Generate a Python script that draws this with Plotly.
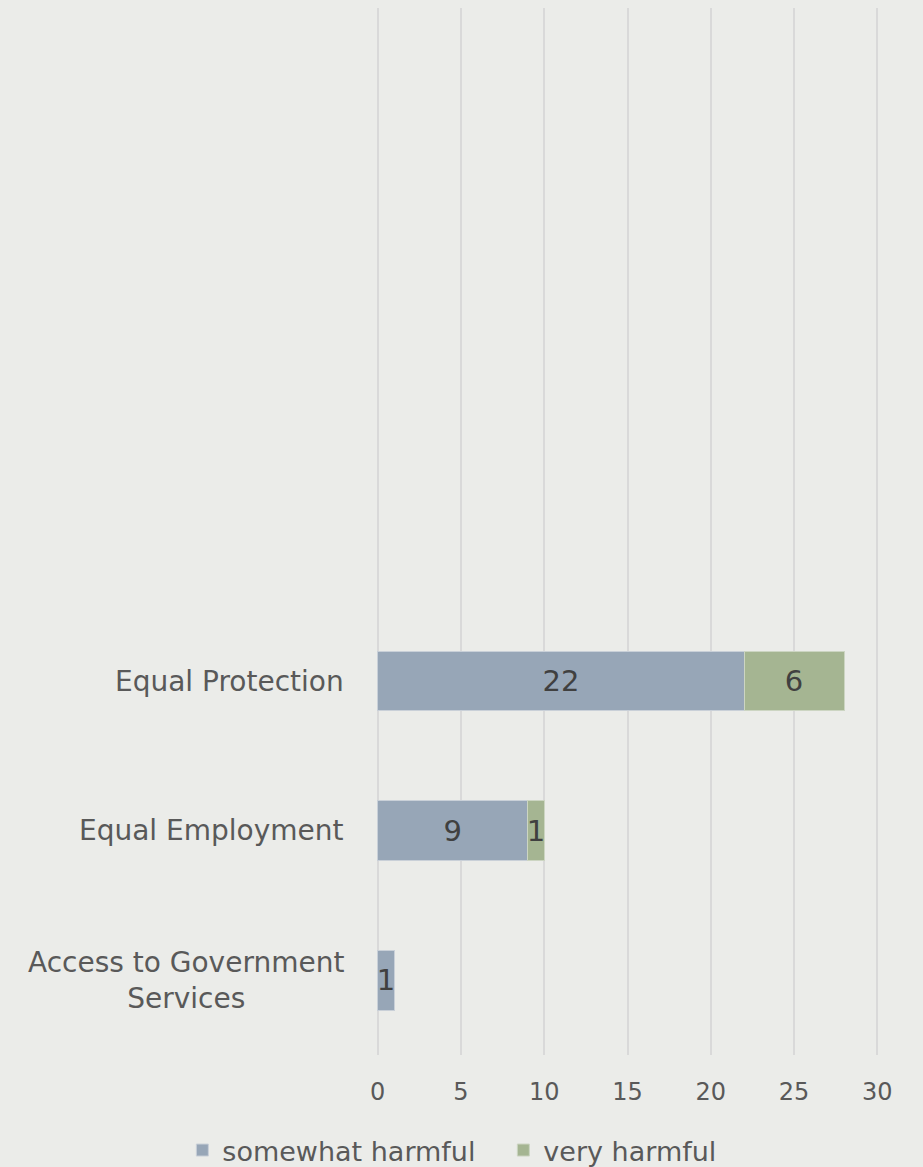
import plotly.graph_objects as go

categories = ["Access to Government Services", "Equal Employment", "Equal Protection"]
category_labels = ["Access to Government<br>Services", "Equal Employment", "Equal Protection"]
somewhat_harmful = [1, 9, 22]
very_harmful = [None, 1, 6]
x_ticks = [0, 5, 10, 15, 20, 25, 30]

FONT = "DejaVu Sans"
TEXT_GREY = "#595959"
LABEL_DARK = "#404040"
BG = "#ebece9"

fig = go.Figure()
fig.add_trace(go.Bar(
    name="somewhat harmful", y=categories, x=somewhat_harmful, orientation="h",
    marker=dict(color="#97a6b7", line=dict(color="#c9d0d8", width=1)),
    width=0.4, text=somewhat_harmful, textposition="inside", insidetextanchor="middle",
    textfont=dict(family=FONT, size=29, color=LABEL_DARK), hoverinfo="x+y",
))
fig.add_trace(go.Bar(
    name="very harmful", y=categories, x=very_harmful, orientation="h",
    marker=dict(color="#a5b592", line=dict(color="#ccd5c2", width=1)),
    width=0.4, text=very_harmful, textposition="inside", insidetextanchor="middle",
    textfont=dict(family=FONT, size=29, color=LABEL_DARK), hoverinfo="x+y",
))

for cat, lab in zip(categories, category_labels):
    fig.add_annotation(
        x=0, xref="x", y=cat, yref="y", text=lab, showarrow=False,
        xanchor="right", xshift=-32, align="center",
        font=dict(family=FONT, size=28, color=TEXT_GREY),
    )

fig.update_layout(
    barmode="stack",
    width=923, height=1167,
    margin=dict(l=376, r=44, t=8, b=112, autoexpand=False),
    paper_bgcolor=BG, plot_bgcolor=BG,
    font=dict(family=FONT, size=24, color=TEXT_GREY),
    uniformtext=dict(mode="show", minsize=29),
    showlegend=True,
    legend=dict(orientation="h", xref="paper", yref="paper",
                x=-0.385, xanchor="left", y=-0.0678, yanchor="top",
                entrywidth=276, entrywidthmode="pixels",
                font=dict(family=FONT, size=27, color=TEXT_GREY),
                traceorder="normal", bgcolor="rgba(0,0,0,0)"),
)
fig.update_xaxes(
    range=[-0.1, 30.1], tickvals=x_ticks, showgrid=True, gridcolor="#d9d9d9", gridwidth=1.5,
    zeroline=False, showline=False, ticks="", ticklabelstandoff=20,
    tickfont=dict(family=FONT, size=24, color=TEXT_GREY), fixedrange=True,
)
fig.update_yaxes(
    type="category", categoryorder="array", categoryarray=categories,
    range=[-0.5, 6.5], showticklabels=False, showgrid=False, zeroline=False,
    showline=False, fixedrange=True,
)

fig.write_html(
    "out.html",
    config={"displayModeBar": False},
    post_script="document.body.style.margin='0px';document.body.style.background='%s';" % BG,
)
